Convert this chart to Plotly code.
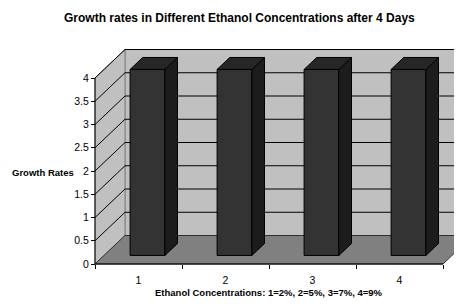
import plotly.graph_objects as go

# ---- data ----
categories = ["1", "2", "3", "4"]
growth_rates = [4, 4, 4, 4]
y_ticks = [0, 0.5, 1, 1.5, 2, 2.5, 3, 3.5, 4]
y_tick_labels = ["0", "0.5", "1", "1.5", "2", "2.5", "3", "3.5", "4"]
title = "Growth rates in Different Ethanol Concentrations after 4 Days"
x_title = "Ethanol Concentrations: 1=2%, 2=5%, 3=7%, 4=9%"
y_title = "Growth Rates"

# ---- geometry (pixel layout of the 3D-look frame) ----
OFF = 8                    # page body margin of the html page
W, H = 462 - OFF, 307 - OFF
X0PX, PXU = 95 - OFF, 87.0     # px of x=0, px per category
Y0PX, PYU = 264 - OFF, 46.5    # px of y=0, px per unit value
DX = 30 / PXU              # depth offset in x units
DY = 28.5 / PYU            # depth offset in y units
N = len(categories)
YMAX = max(y_ticks)
F0, F1 = 0.30, 0.72        # bar depth placement
BW = 0.40                  # bar width

FONT = "Liberation Sans, Arial, sans-serif"

fig = go.Figure()
shapes = []

def poly_shape(pts, fill, line_color, lw=1):
    path = "M " + " L ".join(f"{x},{y}" for x, y in pts) + " Z"
    shapes.append(dict(type="path", path=path, xref="x", yref="y", layer="below",
                       fillcolor=fill, line=dict(color=line_color, width=lw)))

def line_shape(x0, y0, x1, y1, color="black", lw=1):
    shapes.append(dict(type="line", x0=x0, y0=y0, x1=x1, y1=y1, xref="x", yref="y",
                       layer="below", line=dict(color=color, width=lw)))

def poly(xs, ys, fill, line_color, lw=1):
    fig.add_trace(go.Scatter(x=xs + [xs[0]], y=ys + [ys[0]], mode="lines",
                             fill="toself", fillcolor=fill,
                             line=dict(color=line_color, width=lw),
                             hoverinfo="skip", showlegend=False))

# walls and floor
poly_shape([(DX, DY), (N + DX, DY), (N + DX, YMAX + DY), (DX, YMAX + DY)], "#c0c0c0", "#808080")
poly_shape([(0, 0), (DX, DY), (DX, YMAX + DY), (0, YMAX)], "#c0c0c0", "#808080")
poly_shape([(0, 0), (N, 0), (N + DX, DY), (DX, DY)], "#808080", "#303030")

# gridlines on walls
for v in y_ticks[1:]:
    line_shape(0, v, DX, v + DY)
    line_shape(DX, v + DY, N + DX, v + DY)

# axis lines
line_shape(0, 0, 0, YMAX)
line_shape(0, 0, N, 0)

# bars: front faces via Bar trace
centers = [i + 0.5 for i in range(N)]
fig.add_trace(go.Bar(x=[c + F0 * DX for c in centers], y=growth_rates,
                     base=[F0 * DY] * N, width=BW,
                     marker=dict(color="#333333", line=dict(color="black", width=1)),
                     hoverinfo="skip", showlegend=False))

# bar sides and tops
for c, v in zip(centers, growth_rates):
    xl = c - BW / 2 + F0 * DX
    xr = c + BW / 2 + F0 * DX
    ddx = (F1 - F0) * DX
    poly([xr, xr + ddx, xr + ddx, xr],
         [F0 * DY, F1 * DY, v + F1 * DY, v + F0 * DY], "#1c1c1c", "black")
    poly([xl, xr, xr + ddx, xl + ddx],
         [v + F0 * DY, v + F0 * DY, v + F1 * DY, v + F1 * DY], "#262626", "black")

fig.update_layout(
    width=W, height=H,
    margin=dict(l=0, r=0, t=0, b=0),
    paper_bgcolor="white", plot_bgcolor="white",
    barmode="overlay",
    shapes=shapes,
    font=dict(family=FONT, size=10.5, color="black"),
    xaxis=dict(range=[-X0PX / PXU, (W - X0PX) / PXU], showgrid=False, zeroline=False,
               showline=False, tickvals=centers, ticktext=categories, ticks="",
               anchor="free", position=(H - Y0PX) / H, ticklabelstandoff=8,
               minor=dict(tickvals=list(range(N + 1)), ticks="outside", ticklen=4,
                          tickcolor="black"),
               fixedrange=True),
    yaxis=dict(range=[-(H - Y0PX) / PYU, Y0PX / PYU], showgrid=False, zeroline=False,
               showline=False, tickvals=y_ticks, ticktext=y_tick_labels,
               ticks="outside", ticklen=4, tickcolor="black",
               anchor="free", position=X0PX / W, fixedrange=True),
    annotations=[
        dict(text="<b>" + title + "</b>", x=(239.5 - OFF) / W, y=1 - (18 - OFF) / H,
             xref="paper", yref="paper", showarrow=False, font=dict(size=12, family=FONT),
             xanchor="center", yanchor="middle"),
        dict(text="<b>" + x_title + "</b>", x=(269 - OFF) / W, y=1 - (292 - OFF) / H,
             xref="paper", yref="paper", showarrow=False, font=dict(size=9.5, family=FONT),
             xanchor="center", yanchor="middle"),
        dict(text="<b>" + y_title + "</b>", x=(42.5 - OFF) / W, y=1 - (172 - OFF) / H,
             xref="paper", yref="paper", showarrow=False, font=dict(size=9.5, family=FONT),
             xanchor="center", yanchor="middle"),
    ],
)

fig.write_html("out.html")
